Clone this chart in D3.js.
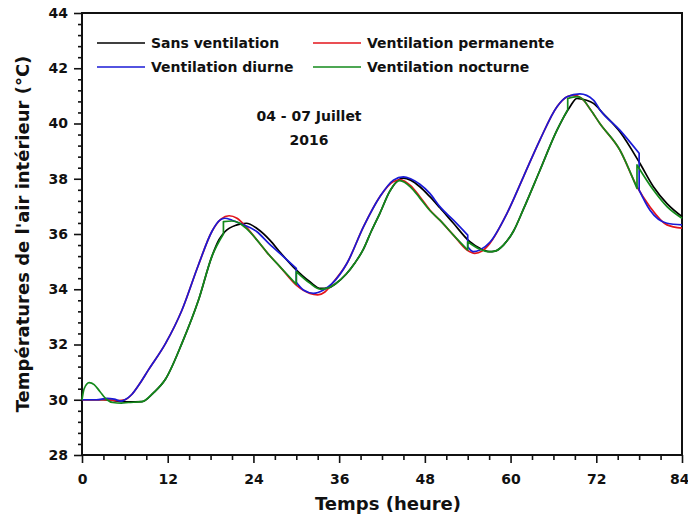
<!DOCTYPE html>
<html>
<head>
<meta charset="utf-8">
<script src="https://cdn.jsdelivr.net/npm/d3@7"></script>
<style>
  html, body { margin: 0; padding: 0; background: #fff; }
  svg { display: block; }
  text { font-family: "DejaVu Sans", Verdana, sans-serif; font-weight: 700; fill: #111; }
</style>
</head>
<body>
<svg id="chart" width="688" height="520"></svg>
<script>
// Indoor air temperature, 04-07 July 2016, hour by hour for four ventilation strategies.
// Each series is a list of [hour, °C]; a repeated hour marks a switch of the ventilation.

const seriesNames = ["Sans ventilation", "Ventilation permanente", "Ventilation diurne", "Ventilation nocturne"];
const seriesColors = ["#000000", "#e3141b", "#1a1ad6", "#138a1b"];

const sansVentilation = [
  [0,30],[3,30],[5,29.95],[6.5,29.92],[8.4,29.93],[10,30.25],[11.7,30.75],[14,32.05],[16.3,33.6],
  [18.2,35.2],[19.2,35.8],[20,36.08],[21.7,36.33],[23,36.39],[24.5,36.2],[26.3,35.78],[27.7,35.35],
  [29.6,34.8],[31.9,34.27],[33.4,34.03],[34.5,34.05],[35.5,34.2],[37,34.55],[38.2,34.95],[39.4,35.45],
  [40.5,36.1],[41.7,36.75],[43.1,37.55],[44,37.88],[45,38.02],[46,37.95],[47.3,37.71],[48.7,37.35],
  [50.1,36.95],[52,36.39],[54.3,35.72],[55.7,35.48],[57,35.36],[57.8,35.38],[59,35.6],[60.4,36.1],
  [61.8,36.9],[64.1,38.3],[66.5,39.76],[68.3,40.6],[69.3,40.91],[70.5,40.85],[71.6,40.73],[73,40.35],
  [75.3,39.7],[78.1,38.56],[80,37.71],[81.9,37.1],[84,36.63]
];

const ventilationPermanente = [
  [0,30],[3,30],[5,29.97],[6,30.0],[7,30.2],[8,30.55],[9.3,31.08],[11.7,32.04],[14,33.25],[16.3,34.88],
  [18.2,36.1],[19.5,36.55],[20.6,36.66],[21.7,36.57],[23,36.25],[24.5,35.78],[26,35.3],[27.7,34.82],
  [30,34.15],[31.9,33.85],[33,33.8],[34,33.9],[35,34.2],[37.1,34.94],[39.4,36.26],[41.7,37.35],
  [43.6,37.9],[44.6,37.96],[46,37.75],[47.3,37.35],[48.7,36.87],[50.1,36.5],[52,35.96],[53.9,35.42],
  [55,35.3],[56,35.38],[57.1,35.66],[59.5,36.75],[61.8,38.07],[64.1,39.4],[66.5,40.61],[67.9,40.97],
  [68.8,41.03],[70,40.9],[71.2,40.5],[72.5,40.0],[75.3,39.04],[77.7,37.71],[79.5,36.99],[81.9,36.33],[84,36.21]
];

const ventilationDiurne = [
  [0,30],[2,30],[3.5,30.05],[4.5,30.02],[5.5,29.95],[6,30.0],[7,30.2],[8,30.55],[9.3,31.08],[11.7,32.04],
  [14,33.25],[16.3,34.88],[18.2,36.1],[19.3,36.5],[20,36.57],[21,36.5],[22.1,36.39],[24.5,36.08],
  [26,35.7],[27.7,35.3],[30,34.76],[30,34.25],[31,33.97],[32.4,33.85],[33.8,33.97],[35,34.2],
  [37.1,34.94],[39.4,36.26],[41.7,37.35],[43.6,37.95],[45,38.07],[46,38.0],[47.3,37.8],[48.7,37.47],
  [50.1,36.99],[52,36.5],[54,35.96],[54,35.54],[54.8,35.36],[55.7,35.42],[57.1,35.7],[59.5,36.75],
  [61.8,38.07],[64.1,39.4],[66.5,40.61],[67.9,40.97],[69.7,41.07],[71.6,40.85],[72.5,40.5],
  [75.3,39.76],[78,38.92],[78,37.59],[79.5,36.87],[81.9,36.39],[84,36.33]
];

const ventilationNocturne = [
  [0,30],[0.3,30.4],[1,30.62],[1.7,30.55],[2.5,30.3],[3.5,30.0],[4.3,29.9],[5.5,29.88],[6.5,29.9],
  [8.4,29.93],[10,30.25],[11.7,30.75],[14,32.05],[16.3,33.6],[18.2,35.2],[19.8,36.0],[19.8,36.45],
  [21,36.47],[22,36.4],[23,36.2],[24.5,35.78],[26,35.3],[27.7,34.82],[30,34.18],[30,34.64],
  [31.9,34.22],[33.4,34.0],[34.5,34.05],[35.5,34.2],[37,34.55],[38.2,34.95],[39.4,35.45],[40.5,36.1],
  [41.7,36.75],[43.1,37.55],[44,37.88],[44.5,37.93],[46,37.7],[47.3,37.3],[48.7,36.85],[50.1,36.5],
  [52,35.96],[54,35.42],[54,35.72],[55.7,35.45],[57,35.36],[57.8,35.38],[59,35.6],[60.4,36.1],
  [61.8,36.9],[64.1,38.3],[66.5,39.76],[68,40.5],[68,40.9],[69.3,40.97],[70,40.9],[71.2,40.5],
  [72.5,40.0],[75.3,39.04],[77.7,37.65],[77.7,38.5],[80,37.59],[81.9,36.99],[84,36.57]
];

const xTicks = [0, 12, 24, 36, 48, 60, 72, 84];
const yTicks = [28, 30, 32, 34, 36, 38, 40, 42, 44];
const periodLabel = ["04 - 07 Juillet", "2016"];
const xTitle = "Temps (heure)";
const yTitle = "Températures de l'air intérieur (°C)";

const svg = d3.select("#chart");
const margin = { left: 82, right: 6, top: 13, bottom: 65 };
const W = 688, H = 520;
const FONT = "'DejaVu Sans', Verdana, sans-serif";

const x = d3.scaleLinear().domain([0, 84]).range([margin.left, W - margin.right]);
const y = d3.scaleLinear().domain([28, 44]).range([H - margin.bottom, margin.top]);

// minor ticks (3 h on x, 0.4 °C on y)
const xMinor = d3.range(0, 84.01, 3).filter(v => v % 12 !== 0);
const yMinor = d3.range(28, 44.01, 0.4).map(v => +v.toFixed(1))
  .filter(v => Math.abs(v % 2) > 1e-6 && Math.abs(v % 2 - 2) > 1e-6);

const xAxis = svg.append("g").attr("transform", `translate(0,${y(28)})`)
  .call(d3.axisBottom(x).tickValues(xTicks).tickSize(8).tickPadding(11).tickFormat(d3.format("d")));
const xAxisMinor = svg.append("g").attr("transform", `translate(0,${y(28)})`)
  .call(d3.axisBottom(x).tickValues(xMinor).tickSize(5).tickFormat(""));
const yAxis = svg.append("g").attr("transform", `translate(${x(0)},0)`)
  .call(d3.axisLeft(y).tickValues(yTicks).tickSize(8).tickPadding(6).tickFormat(d3.format("d")));
const yAxisMinor = svg.append("g").attr("transform", `translate(${x(0)},0)`)
  .call(d3.axisLeft(y).tickValues(yMinor).tickSize(4).tickFormat(""));

[xAxis, xAxisMinor, yAxis, yAxisMinor].forEach(g => {
  g.select(".domain").remove();
  g.selectAll(".tick line").attr("stroke", "#111").attr("stroke-width", 1.6);
  g.selectAll(".tick text").attr("font-family", FONT)
    .attr("font-weight", 700).attr("font-size", 14).attr("fill", "#111");
});
// keep the last hour label inside the page
xAxis.selectAll(".tick text").filter(d => d === 84).attr("text-anchor", "end").attr("x", 7);

// plot frame
svg.append("rect")
  .attr("x", x(0)).attr("y", y(44))
  .attr("width", x(84) - x(0)).attr("height", y(28) - y(44))
  .attr("fill", "none").attr("stroke", "#111").attr("stroke-width", 2);

// series: smooth runs, joined by straight vertical steps where the hour repeats
const line = d3.line().x(d => x(d[0])).y(d => y(d[1])).curve(d3.curveMonotoneX);
function pathFor(points) {
  const runs = [];
  let cur = [points[0]];
  for (let i = 1; i < points.length; i++) {
    if (points[i][0] === points[i - 1][0]) { runs.push(cur); cur = [points[i]]; }
    else cur.push(points[i]);
  }
  runs.push(cur);
  return runs.map((r, i) => {
    const d = r.length > 1 ? line(r) : `M${x(r[0][0])},${y(r[0][1])}`;
    return i === 0 ? d : "L" + d.slice(1);
  }).join("");
}

const allSeries = [sansVentilation, ventilationPermanente, ventilationDiurne, ventilationNocturne];
allSeries.forEach((s, i) => {
  svg.append("path")
    .attr("d", pathFor(s))
    .attr("fill", "none")
    .attr("stroke", seriesColors[i])
    .attr("stroke-width", 1.7)
    .attr("stroke-linejoin", "round");
});

// legend, two columns
const legendPos = [[97, 43], [313, 43], [97, 67], [313, 67]];
seriesNames.forEach((name, k) => {
  const [lx, ly] = legendPos[k];
  svg.append("line").attr("x1", lx).attr("x2", lx + 48).attr("y1", ly).attr("y2", ly)
    .attr("stroke", seriesColors[k]).attr("stroke-width", 1.7);
  svg.append("text").attr("x", lx + 54).attr("y", ly).attr("dy", "0.36em")
    .attr("font-size", 14).text(name);
});

// period annotation
periodLabel.forEach((t, i) => {
  svg.append("text").attr("x", 309).attr("y", 116 + i * 24).attr("dy", "0.36em")
    .attr("text-anchor", "middle").attr("font-size", 14).text(t);
});

// axis titles
svg.append("text").attr("x", (x(0) + x(84)) / 2 + 6).attr("y", 504).attr("dy", "0.36em")
  .attr("text-anchor", "middle").attr("font-size", 18).text(xTitle);
svg.append("text").attr("transform", `translate(23,${(y(28) + y(44)) / 2}) rotate(-90)`)
  .attr("dy", "0.36em").attr("text-anchor", "middle").attr("font-size", 18).text(yTitle);
</script>
</body>
</html>
